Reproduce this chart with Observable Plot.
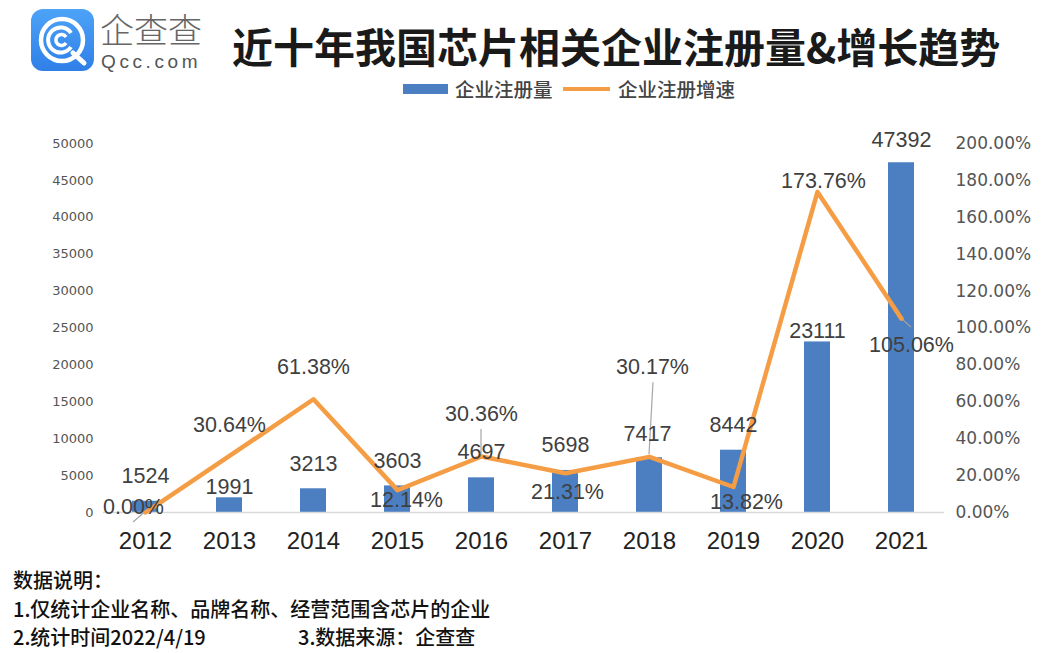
<!DOCTYPE html>
<html>
<head>
<meta charset="utf-8">
<script src="https://cdn.jsdelivr.net/npm/d3@7"></script>
<script src="https://cdn.jsdelivr.net/npm/@observablehq/plot@0.6"></script>
<style>
  html, body { margin: 0; padding: 0; background: #fff; }
  #wrap { position: relative; width: 1048px; height: 653px; overflow: hidden; background: #fff;
          font-family: "Noto Sans CJK SC", "Liberation Sans", sans-serif; }
  .abs { position: absolute; white-space: nowrap; }
  #title { left: 232px; top: 18px; font-size: 41px; font-weight: bold; color: #1a1a1a; line-height: 54px; }
  #brand { left: 100px; top: 8px; font-size: 34px; color: #666; line-height: 42px; font-weight: 300; }
  #brand2 { left: 101px; top: 50px; font-size: 19px; color: #555; letter-spacing: 3.6px; line-height: 24px;
            font-family: "Liberation Sans", sans-serif; }
  .leg { top: 76px; font-size: 19.5px; color: #444; line-height: 26px; font-weight: 500; }
  .note { left: 13px; font-size: 20px; color: #111; line-height: 28px; font-weight: 500; }
  #chart { position: absolute; left: 0; top: 110px; }
</style>
</head>
<body>
<div id="wrap">
  <svg class="abs" style="left:0;top:0" width="100" height="80">
    <defs>
      <linearGradient id="lg" x1="0" y1="0" x2="0" y2="1">
        <stop offset="0" stop-color="#4da3f7"/>
        <stop offset="1" stop-color="#2f7fe8"/>
      </linearGradient>
    </defs>
    <rect x="31" y="9" width="63" height="62" rx="12" fill="url(#lg)"/>
    <circle cx="62" cy="40" r="21" fill="none" stroke="#fff" stroke-width="4.5"/>
    <path d="M73 53 L84 63" stroke="#fff" stroke-width="5" stroke-linecap="round"/>
    <path d="M71 33 A12.5 12.5 0 1 0 71 47" fill="none" stroke="#fff" stroke-width="4"/>
    <path d="M66 37 A5.5 5.5 0 1 0 66 43" fill="none" stroke="#fff" stroke-width="3.5"/>
  </svg>
  <div id="brand" class="abs">企查查</div>
  <div id="brand2" class="abs">Qcc.com</div>
  <div id="title" class="abs">近十年我国芯片相关企业注册量&amp;增长趋势</div>

  <div class="abs" style="left:403px;top:84px;width:45px;height:10px;background:#4b7fc2"></div>
  <div class="abs leg" style="left:455px">企业注册量</div>
  <div class="abs" style="left:563px;top:87px;width:47px;height:4px;background:#f59d45"></div>
  <div class="abs leg" style="left:618px">企业注册增速</div>

  <div id="chart"></div>

  <div class="abs note" style="top:566px">数据说明：</div>
  <div class="abs note" style="top:595px">1.仅统计企业名称、品牌名称、经营范围含芯片的企业</div>
  <div class="abs note" style="top:623px">2.统计时间2022/4/19</div>
  <div class="abs note" style="top:623px;left:298px">3.数据来源：企查查</div>
</div>
<script>
// ---- data ----
const years = ["2012","2013","2014","2015","2016","2017","2018","2019","2020","2021"];
const counts = [1524, 1991, 3213, 3603, 4697, 5698, 7417, 8442, 23111, 47392];
const growth = [0.00, 30.64, 61.38, 12.14, 30.36, 21.31, 30.17, 13.82, 173.76, 105.06]; // %
const leftTicks = [0, 5000, 10000, 15000, 20000, 25000, 30000, 35000, 40000, 45000, 50000];
const rightTicks = [0, 20, 40, 60, 80, 100, 120, 140, 160, 180, 200]; // %

// ---- styling (label nudges in pixels) ----
const K = 50000 / 200; // right axis 200% aligns with left axis 50000
const barLabelDx = [0, 0, 0, 0, 0, 0, -2, 0, 0, 0];
const barLabelDy = [-25, -11, -25, -25, -26, -25, -24, -25, -11, -23];
const pctLabelDx = [-12, 0, 0, 9, 0, 2, 3, 13, 6, 10];
const pctLabelDy = [-5, -31, -32, 10, -42, 19, -90, 15, -11, 26];
// leader lines: [index, dx1, dy1, dx2, dy2] relative to the growth point
const leaders = [[0, -12, 10, 2, -2], [4, 0, 0, 0, -27], [6, 0, -2, 4, -74], [9, 0, 0, 10, 9]];

const rows = years.map((year, i) => ({year, count: counts[i], growth: growth[i], g: growth[i] * K, i}));

const BLUE = "#4b7fc2", ORANGE = "#f59d45";
const NUMFONT = "Liberation Sans, Arial, sans-serif";

const barLabels = rows.map(r => Plot.text([r], {
  x: "year", y: "count", text: d => String(d.count),
  dx: barLabelDx[r.i], dy: barLabelDy[r.i],
  fontSize: 21.5, fill: "#404040", fontFamily: NUMFONT, textAnchor: "middle", lineAnchor: "middle"
}));
const pctLabels = rows.map(r => Plot.text([r], {
  x: "year", y: "g", text: d => d.growth.toFixed(2) + "%",
  dx: pctLabelDx[r.i], dy: pctLabelDy[r.i],
  fontSize: 21.5, fill: "#404040", fontFamily: NUMFONT, textAnchor: "middle", lineAnchor: "middle"
}));

function leaderMark(index, scales) {
  const g = document.createElementNS("http://www.w3.org/2000/svg", "g");
  const xs = scales.x, ys = scales.y;
  const bw = xs.bandwidth ? xs.bandwidth() : 0;
  for (const [i, dx1, dy1, dx2, dy2] of leaders) {
    const px = xs(years[i]) + bw / 2, py = ys(growth[i] * K);
    const l = document.createElementNS("http://www.w3.org/2000/svg", "line");
    l.setAttribute("x1", px + dx1); l.setAttribute("y1", py + dy1);
    l.setAttribute("x2", px + dx2); l.setAttribute("y2", py + dy2);
    l.setAttribute("stroke", "#a6a6a6"); l.setAttribute("stroke-width", "1.2");
    g.appendChild(l);
  }
  return g;
}

const chart = Plot.plot({
  width: 1048,
  height: 460,
  marginLeft: 103,
  marginRight: 104,
  marginTop: 33,
  marginBottom: 58,
  style: {fontFamily: NUMFONT, background: "transparent", overflow: "visible"},
  x: {type: "band", domain: years, paddingInner: 0.69, paddingOuter: 0.345, label: null},
  y: {domain: [0, 50000], label: null},
  marks: [
    Plot.barY(rows, {x: "year", y: "count", fill: BLUE}),
    Plot.ruleY([0], {stroke: "#d9d9d9", strokeWidth: 1.5}),
    leaderMark,
    Plot.line(rows, {x: "year", y: "g", stroke: ORANGE, strokeWidth: 4.5, strokeLinejoin: "round", strokeLinecap: "round"}),
    Plot.axisY(leftTicks, {anchor: "left", tickSize: 0, tickPadding: 10, fontSize: 13, fill: "#555",
      fontFamily: "DejaVu Sans, sans-serif", tickFormat: d => String(d), label: null}),
    Plot.axisY(rightTicks.map(v => v * K), {anchor: "right", tickSize: 0, tickPadding: 11, fontSize: 17, fill: "#555",
      fontFamily: "DejaVu Sans, sans-serif", tickFormat: d => (d / K).toFixed(2) + "%", label: null}),
    Plot.axisX({tickSize: 0, tickPadding: 19, fontSize: 24, fill: "#222", label: null}),
    ...barLabels,
    ...pctLabels
  ]
});
document.getElementById("chart").appendChild(chart);
</script>
</body>
</html>
